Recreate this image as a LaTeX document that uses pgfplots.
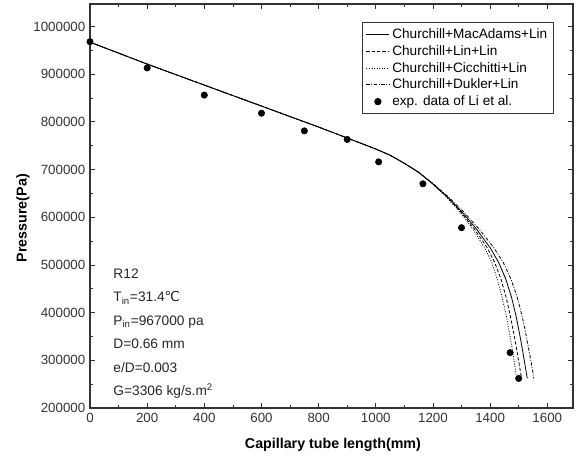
\documentclass[border=0pt]{standalone}
\usepackage{pgfplots}
\pgfplotsset{compat=1.18}
\usepackage{fontspec}
\setmainfont{Liberation Sans}
\setsansfont{Liberation Sans}
\newfontfamily\dejavu{DejaVu Sans}
\begin{document}
\begin{tikzpicture}
\begin{axis}[
  scale only axis,
  width=362.25pt, height=303pt,
  xmin=0, xmax=1690, ymin=200000, ymax=1047000,
  xtick={0,200,...,1600},
  ytick={200000,300000,...,1000000},
  minor x tick num=1, minor y tick num=1,
  tick align=inside,
  major tick length=4pt, minor tick length=2.5pt,
  xtick pos=both, ytick pos=both,
  xticklabel pos=lower, yticklabel pos=left,
  scaled ticks=false,
  /pgf/number format/fixed,
  /pgf/number format/precision=0,
  /pgf/number format/1000 sep={},
  /pgf/number format/assume math mode=true,
  tick label style={font=\fontsize{10}{11}\selectfont, text=black!80},
  xlabel={\textbf{Capillary tube length(mm)}},
  ylabel={\textbf{Pressure(Pa)}},
  label style={font=\fontsize{10.7}{12}\selectfont},
  x label style={at={(axis description cs:0.503,-0.092)}, anchor=center},
  y label style={at={(axis description cs:-0.139,0.47)}, anchor=center},
  axis line style={line width=0.8pt, black!80},
  every tick/.style={black!80, line width=0.6pt},
  legend style={at={(0.96,0.955)}, anchor=north east, draw=black!80, line width=0.6pt,
    font=\fontsize{10.2}{11.5}\selectfont, row sep=-0.3pt, inner sep=2.5pt},
  legend cell align=left,
]
\addplot[black, line width=0.6pt] coordinates {
(0,967000) (200,921000) (400,877000) (600,833000) (800,789000) (1000,743000)
(1050,730000) (1100,713000) (1150,694000) (1200,670000) (1250,643000) (1300,612000)
(1350,577000) (1400,536000) (1430,505000) (1455,470000) (1475,432000) (1490,395000)
(1500,365000) (1510,333000) (1520,298000) (1530,262000)};
\addlegendentry{Churchill+MacAdams+Lin}
\addplot[black, line width=0.6pt, dash pattern=on 2.5pt off 1.5pt] coordinates {
(0,967000) (200,921000) (400,877000) (600,833000) (800,789000) (1000,743000)
(1050,730000) (1100,713000) (1150,694000) (1199,670000) (1248,643000) (1296,612000)
(1343,577000) (1390,536000) (1416,505000) (1438,470000) (1456,432000) (1470,395000)
(1480,365000) (1490,333000) (1500,298000) (1510,262000)};
\addlegendentry{Churchill+Lin+Lin}
\addplot[black, line width=0.6pt, dash pattern=on 0.7pt off 1.2pt] coordinates {
(0,967000) (200,921000) (400,877000) (600,833000) (800,789000) (1000,743000)
(1050,730000) (1100,713000) (1150,694000) (1198,670000) (1246,643000) (1292,612000)
(1337,577000) (1381,536000) (1406,505000) (1425,470000) (1442,432000) (1456,395000)
(1465,365000) (1475,333000) (1484,298000) (1493,262000)};
\addlegendentry{Churchill+Cicchitti+Lin}
\addplot[black, line width=0.6pt, dash pattern=on 2.5pt off 1.2pt on 0.7pt off 1.2pt] coordinates {
(0,967000) (200,921000) (400,877000) (600,833000) (800,789000) (1000,743000)
(1050,730000) (1100,713000) (1150,694000) (1201,670000) (1253,643000) (1306,612000)
(1359,577000) (1413,536000) (1446,505000) (1473,470000) (1495,432000) (1511,395000)
(1522,365000) (1532,333000) (1543,298000) (1553,262000)};
\addlegendentry{Churchill+Dukler+Lin}
\addplot[only marks, mark=*, mark size=2.4pt, black] coordinates {
(0,968000) (200,913000) (400,856000) (600,818000) (750,781000) (900,763000)
(1010,716000) (1165,670000) (1300,578000) (1470,316000) (1500,262000)};
\addlegendentry{exp. data of Li et al.}
\node[anchor=north west, align=left, inner sep=0pt, font=\fontsize{10.3}{17.6}\selectfont, text=black!85]
  at (axis description cs:0.048,0.345) {R12\\
  T\textsubscript{in}=31.4{\dejavu ℃}\\
  P\textsubscript{in}=967000 pa\\
  D=0.66 mm\\
  e/D=0.003\\
  G=3306 kg/s.m\textsuperscript{2}};
\end{axis}
\pgfresetboundingbox
\path ([shift={(-67.5pt,-38.25pt)}]current axis.south west) rectangle ([shift={(6pt,3pt)}]current axis.north east);
\end{tikzpicture}
\end{document}
